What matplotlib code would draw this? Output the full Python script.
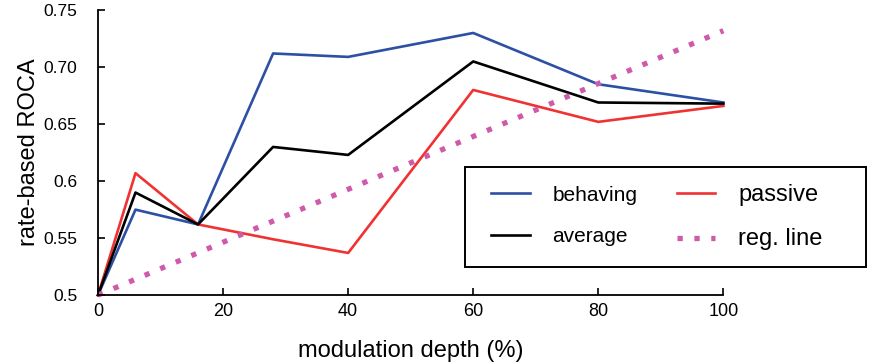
import matplotlib
matplotlib.use('Agg')
import matplotlib.pyplot as plt
from matplotlib.patches import Rectangle
import numpy as np

plt.rcParams['font.family'] = ['Liberation Sans', 'DejaVu Sans']

# modulation depth (%)
depth = [0, 6, 16, 28, 40, 60, 80, 100]
behaving = [0.5, 0.575, 0.562, 0.712, 0.709, 0.730, 0.685, 0.669]
average = [0.5, 0.590, 0.562, 0.630, 0.623, 0.705, 0.669, 0.668]
passive = [0.5, 0.607, 0.562, 0.549, 0.537, 0.680, 0.652, 0.666]
reg_x = [0, 100]
reg_y = [0.5, 0.732]

yticks = [0.5, 0.55, 0.6, 0.65, 0.70, 0.75]
yticklabels = ['0.5', '0.55', '0.6', '0.65', '0.70', '0.75']
xticks = [0, 20, 40, 60, 80, 100]

W, H = 871, 363
fig = plt.figure(figsize=(W / 100, H / 100), dpi=100)
ax = fig.add_axes([0.1125, 0.187, 0.718, 0.785])

lw = 1.9
ax.plot(depth, behaving, color='#2d50a5', lw=lw, label='behaving', clip_on=False)
ax.plot(depth, passive, color='#f03232', lw=lw, label='passive', clip_on=False)
ax.plot(depth, average, color='black', lw=lw, label='average', clip_on=False)
ax.plot(reg_x, reg_y, color='#d05aaa', lw=3.8, linestyle=(0, (1, 2.2)),
        dash_capstyle='butt', label='reg. line', clip_on=False)

ax.set_xlim(0, 100)
ax.set_ylim(0.5, 0.75)
ax.set_xticks(xticks)
ax.set_yticks(yticks)
ax.set_yticklabels(yticklabels)
ax.tick_params(direction='in', length=5, width=1.2, labelsize=13)
ax.tick_params(axis='x', pad=6)
ax.tick_params(axis='y', pad=15, labelsize=12.5)
for s in ['top', 'right']:
    ax.spines[s].set_visible(False)
for s in ['left', 'bottom']:
    ax.spines[s].set_linewidth(1.3)

ax.set_xlabel('modulation depth (%)', fontsize=17, labelpad=14)
ax.set_ylabel('rate-based ROCA', fontsize=17, labelpad=2.5)

# legend box (frame drawn separately so its size matches)
fig.patches.append(Rectangle((465 / W, 96 / H), 401 / W, 100 / H,
                             transform=fig.transFigure, fill=False,
                             edgecolor='black', lw=1.4))
h, l = ax.get_legend_handles_labels()
order = [0, 2, 1, 3]
leg = fig.legend([h[i] for i in order], [l[i] for i in order], ncol=2,
                 loc='center', bbox_to_anchor=(657 / W, 1 - 217 / H),
                 borderaxespad=0, borderpad=0, fontsize=15, frameon=False,
                 handlelength=1.83, handletextpad=1.1, labelspacing=1.1,
                 columnspacing=1.9)
for t in leg.get_texts():
    if t.get_text() in ('passive', 'reg. line'):
        t.set_fontsize(17)

fig.savefig('out.png', dpi=100)
